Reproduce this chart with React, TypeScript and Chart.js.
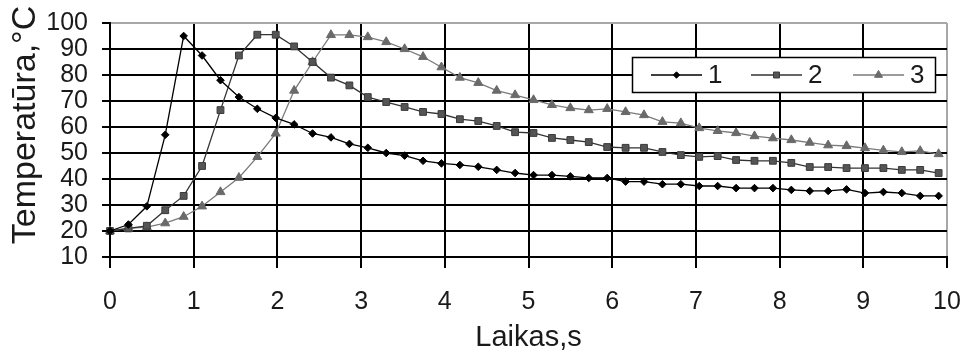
import React, { useEffect, useRef } from 'react';
import { Chart, registerables } from 'chart.js';
import { drawPoint } from 'chart.js/helpers';

Chart.register(...registerables);

// time, s
const times = [
  0, 0.22, 0.44, 0.66, 0.88, 1.1, 1.32, 1.54, 1.76, 1.98,
  2.2, 2.42, 2.64, 2.86, 3.08, 3.3, 3.52, 3.74, 3.96, 4.18,
  4.4, 4.62, 4.84, 5.06, 5.28, 5.5, 5.72, 5.94, 6.16, 6.38,
  6.6, 6.82, 7.04, 7.26, 7.48, 7.7, 7.92, 8.14, 8.36, 8.58,
  8.8, 9.02, 9.24, 9.46, 9.68, 9.9,
];

const series1 = [
  20, 22.5, 29.5, 57, 95, 87.5, 78, 71.5, 67, 63.5,
  61, 57.5, 56, 53.5, 52, 50, 49, 47, 46, 45.4,
  44.7, 43.5, 42.3, 41.5, 41.5, 41, 40.4, 40.4, 39, 39,
  38, 38, 37.3, 37.3, 36.5, 36.5, 36.5, 35.8, 35.4, 35.4,
  36, 34.6, 35, 34.6, 33.5, 33.5,
];

const series2 = [
  20, 21, 22, 28, 33.5, 45, 66.5, 87.5, 95.5, 95.5,
  91, 85, 79, 76, 71.5, 69.6, 67.7, 65.8, 65, 63,
  62.3, 60.4, 58, 57.7, 55.8, 55, 54.2, 52.3, 52, 52,
  50.4, 49.2, 48.5, 48.8, 47.3, 47, 47, 46.2, 44.6, 44.6,
  44.2, 44.2, 44.2, 43.5, 43.5, 42.3,
];

const series3 = [
  20, 21, 21.5, 23, 25.5, 29.5, 35, 40.5, 48.5, 57.5,
  74, 85, 95.4, 95.4, 94.6, 92.7, 90, 87, 83, 79,
  77, 74, 72.3, 70.4, 68.5, 67.3, 66.5, 67, 65.8, 64.6,
  62, 61.5, 59.6, 58.5, 57.7, 56.5, 55.7, 55, 54, 53,
  52.7, 51.9, 51, 50.4, 50.8, 49.6,
];

const seriesLabels = ['1', '2', '3'];
const xTitle = 'Laikas,s';
const yTitle = 'Temperatūra,°C';
const xMin = 0;
const xMax = 10;
const yMin = 10;
const yMax = 100;

const FONT = "'Liberation Sans', Arial, sans-serif";
const TEXT = '#1a1a1a';

const styles = [
  { line: '#000000', fill: '#000000', edge: '#000000', pointStyle: 'rectRot', radius: 3.8, legendRadius: 3.2 },
  { line: '#333333', fill: '#555555', edge: '#3a3a3a', pointStyle: 'rect', radius: 4.8, legendRadius: 4.2 },
  { line: '#7a7a7a', fill: '#6a6a6a', edge: '#6a6a6a', pointStyle: 'triangle', radius: 5.2, legendRadius: 4.6 },
];

const overlayPlugin = {
  id: 'overlay',
  afterDraw(chart: any) {
    const ctx = chart.ctx as CanvasRenderingContext2D;
    const area = chart.chartArea;
    ctx.save();

    // y axis title
    ctx.fillStyle = TEXT;
    ctx.font = `34px ${FONT}`;
    ctx.textAlign = 'center';
    ctx.textBaseline = 'middle';
    ctx.translate(26, 125);
    ctx.rotate(-Math.PI / 2);
    ctx.fillText(yTitle, 0, 0);
    ctx.setTransform(1, 0, 0, 1, 0, 0);

    // legend box
    const bx = area.right - 315;
    const by = area.top + 34;
    const bw = 304;
    const bh = 36;
    ctx.fillStyle = '#ffffff';
    ctx.fillRect(bx, by, bw, bh);
    ctx.strokeStyle = '#000000';
    ctx.lineWidth = 1.5;
    ctx.strokeRect(bx + 0.5, by + 0.5, bw - 1, bh - 1);

    const cy = by + bh / 2;
    const starts = [bx + 19, bx + 119, bx + 221];
    seriesLabels.forEach((lab, i) => {
      const s = styles[i];
      const x0 = starts[i];
      const x1 = x0 + 51;
      ctx.strokeStyle = s.line;
      ctx.lineWidth = 1.3;
      ctx.beginPath();
      ctx.moveTo(x0, cy);
      ctx.lineTo(x1, cy);
      ctx.stroke();
      ctx.fillStyle = s.fill;
      ctx.strokeStyle = s.edge;
      ctx.lineWidth = 1;
      drawPoint(ctx, { pointStyle: s.pointStyle as any, radius: s.legendRadius, rotation: 0, borderWidth: 1 }, (x0 + x1) / 2, cy);
      ctx.fillStyle = TEXT;
      ctx.font = `26px ${FONT}`;
      ctx.textAlign = 'left';
      ctx.textBaseline = 'middle';
      ctx.fillText(lab, x1 + 6, cy + 1);
    });

    ctx.restore();
  },
};

export default function App() {
  const canvasRef = useRef<HTMLCanvasElement | null>(null);

  useEffect(() => {
    if (!canvasRef.current) return;
    const all = [series1, series2, series3];
    const chart = new Chart(canvasRef.current, {
      type: 'line',
      data: {
        datasets: all.map((vals, i) => ({
          label: seriesLabels[i],
          data: vals.map((v, j) => ({ x: times[j], y: v })),
          borderColor: styles[i].line,
          borderWidth: 1.3,
          pointStyle: styles[i].pointStyle as any,
          pointRadius: styles[i].radius,
          pointBackgroundColor: styles[i].fill,
          pointBorderColor: styles[i].edge,
          pointBorderWidth: 1,
          tension: 0,
          clip: 12,
        })),
      },
      options: {
        animation: false,
        responsive: false,
        maintainAspectRatio: false,
        events: [],
        layout: { padding: { left: 0, top: 23, right: 20, bottom: 0 } },
        plugins: {
          legend: { display: false },
          tooltip: { enabled: false },
        },
        scales: {
          x: {
            type: 'linear',
            min: xMin,
            max: xMax,
            afterFit: (scale: any) => {
              scale.height = 99;
              scale.paddingLeft = 0;
              scale.paddingRight = 0;
            },
            ticks: {
              stepSize: 1,
              color: TEXT,
              font: { family: FONT, size: 25 },
              padding: 19,
              maxRotation: 0,
              autoSkip: false,
            },
            grid: {
              color: (c: any) => (c.tick && c.tick.value === xMax ? '#a8a8a8' : '#000000'),
              tickColor: '#000000',
              lineWidth: 2,
              tickLength: 11,
            },
            border: { color: '#000000', width: 2 },
            title: {
              display: true,
              text: xTitle,
              color: TEXT,
              font: { family: FONT, size: 29 },
              padding: { top: 0, bottom: 1 },
            },
          },
          y: {
            min: yMin,
            max: yMax,
            afterFit: (scale: any) => {
              scale.width = 110;
              scale.paddingTop = 0;
              scale.paddingBottom = 0;
            },
            ticks: {
              stepSize: 10,
              color: TEXT,
              font: { family: FONT, size: 25 },
              padding: 14,
              autoSkip: false,
            },
            grid: {
              color: (c: any) => (c.tick && c.tick.value === yMax ? '#a8a8a8' : '#000000'),
              tickColor: '#000000',
              lineWidth: 2,
              tickLength: 8,
            },
            border: { color: '#000000', width: 2 },
          },
        },
      },
      plugins: [overlayPlugin],
    });
    return () => chart.destroy();
  }, []);

  return (
    <div style={{ position: 'fixed', left: 0, top: 0, width: 967, height: 356, background: '#ffffff' }}>
      <canvas ref={canvasRef} width={967} height={356} style={{ display: 'block' }} />
    </div>
  );
}
